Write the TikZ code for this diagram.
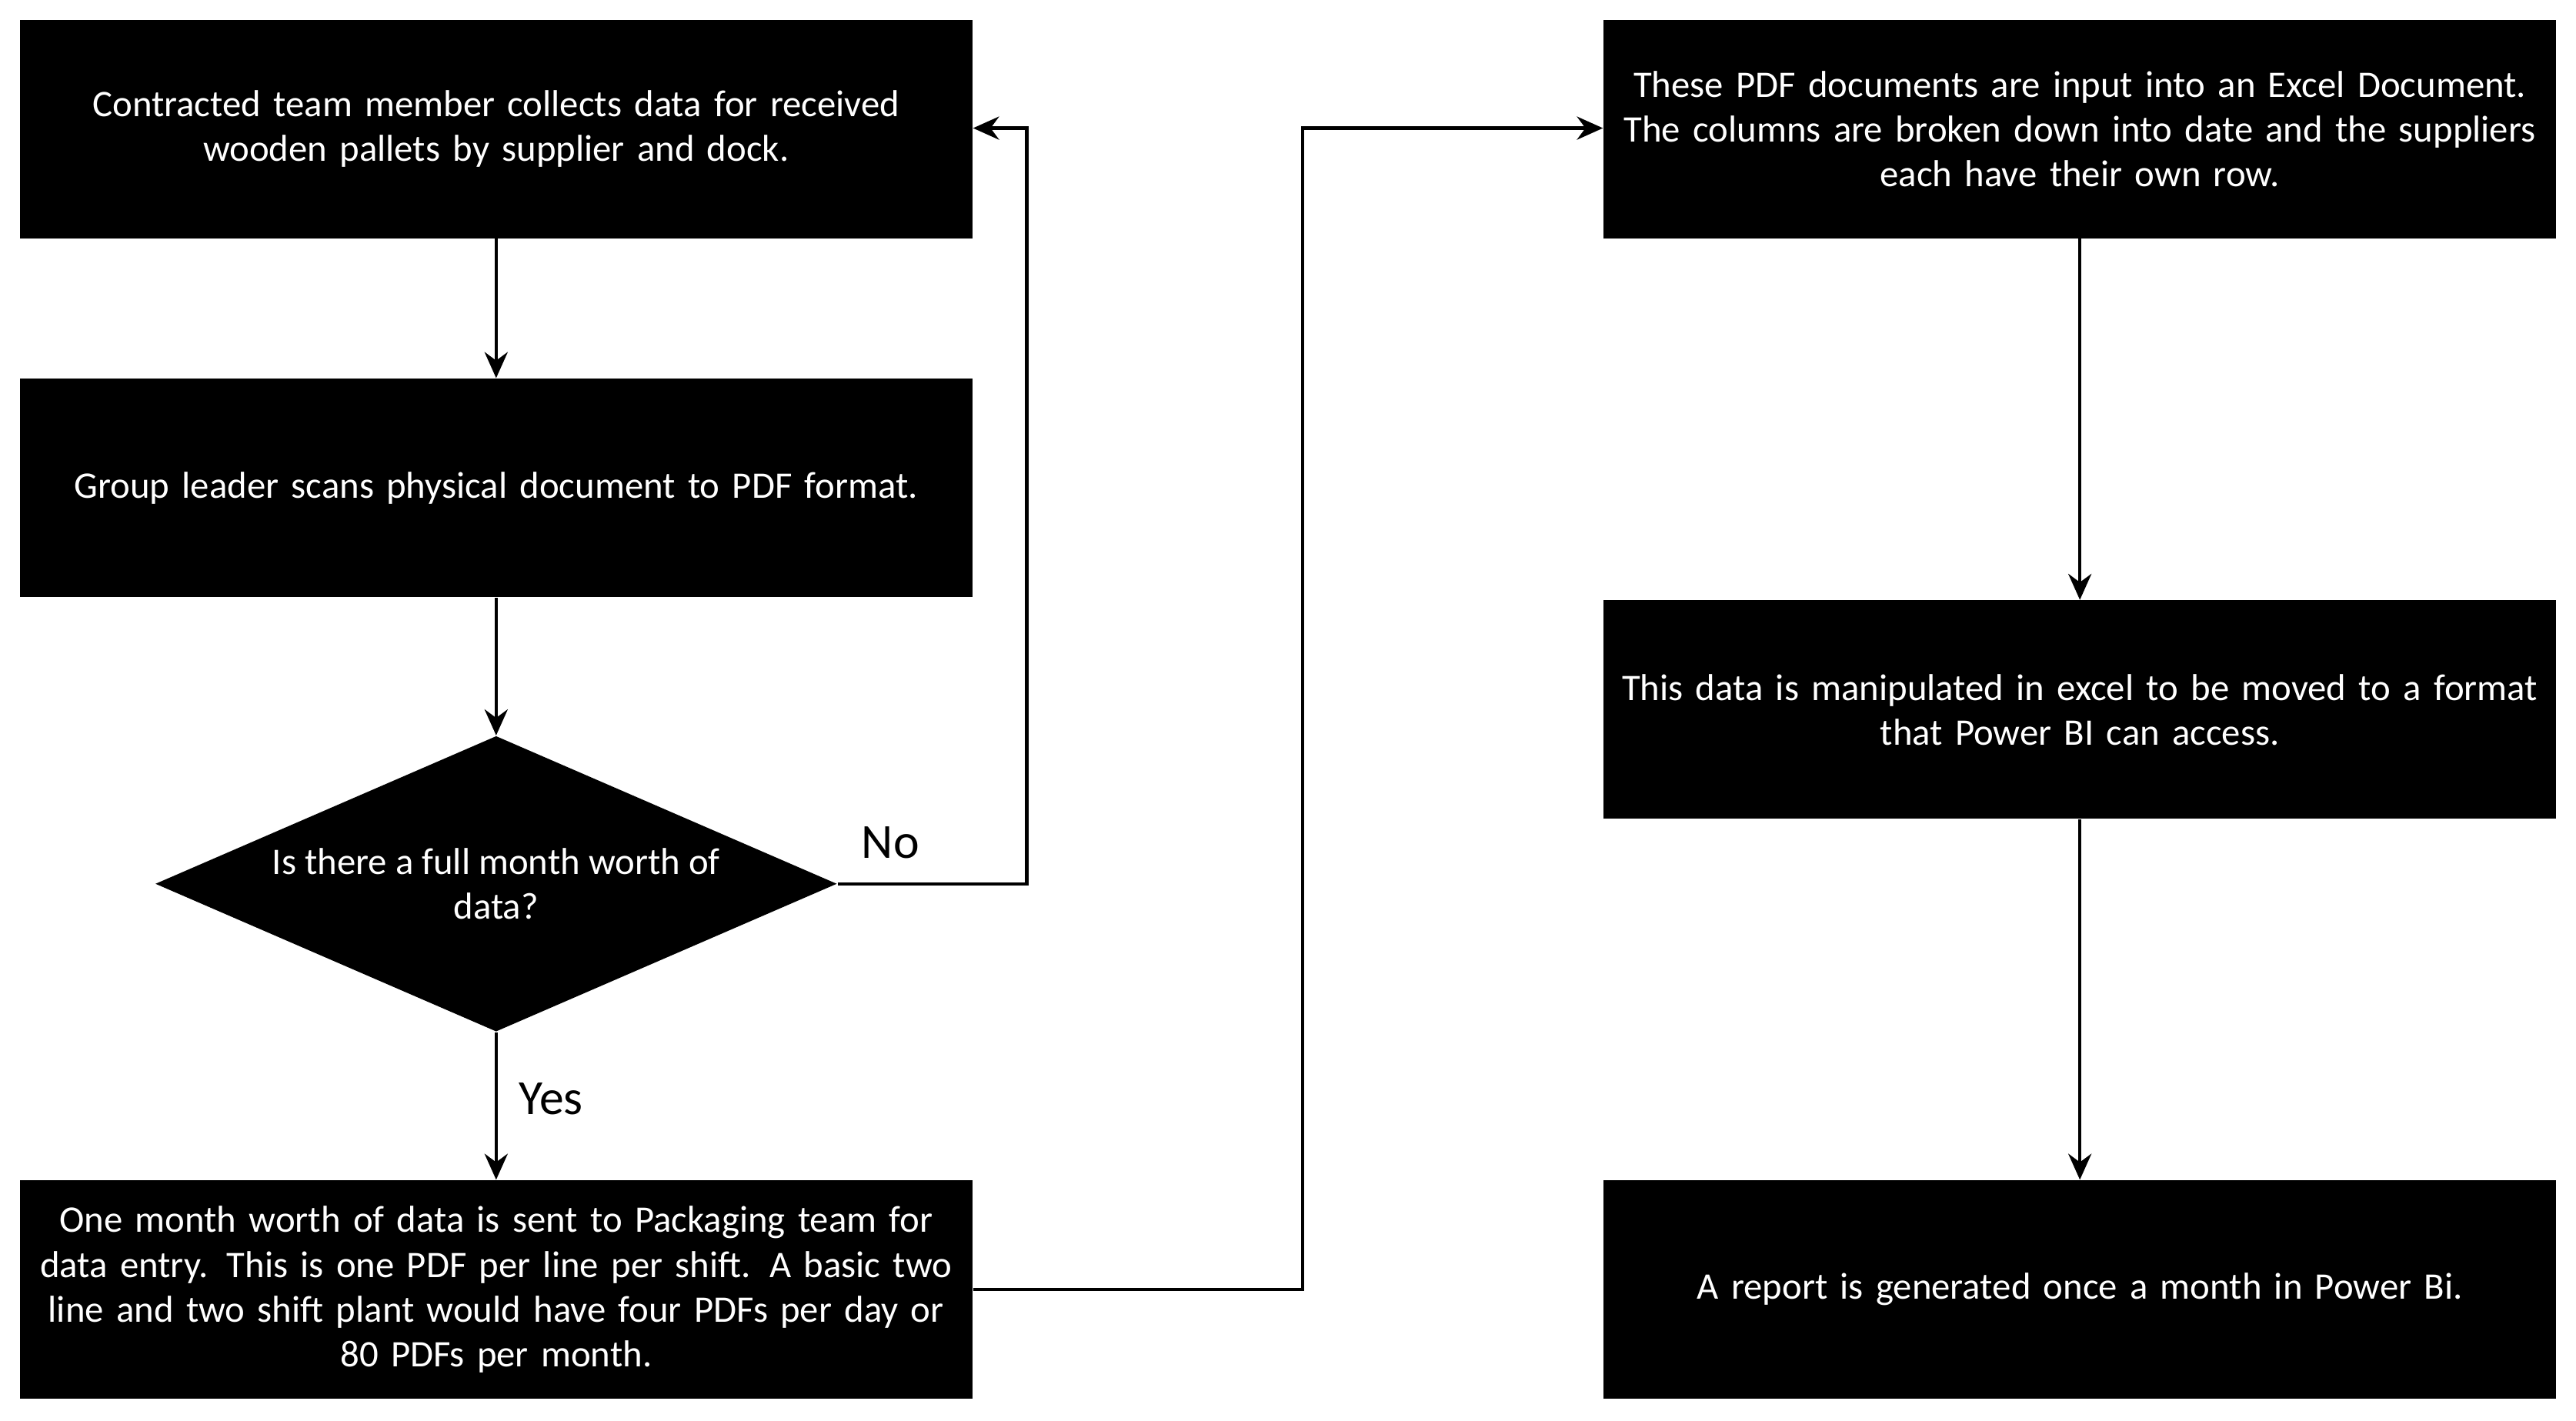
\documentclass[tikz,border=0pt]{standalone}
\usepackage{fontspec}
\setmainfont{Carlito}
\usetikzlibrary{shapes.geometric,arrows.meta}
\begin{document}
\begin{tikzpicture}[x=0.02cm,y=-0.02cm,
  box/.style={fill=black,text=white,minimum width=11.6cm,minimum height=2.66cm,text width=11.2cm,align=center,inner sep=0pt,font=\fontsize{13}{15.5}\selectfont},
  dia/.style={diamond,fill=black,text=white,aspect=2.3,minimum width=8.3cm,minimum height=3.6cm,inner sep=0pt,align=center,font=\fontsize{13}{15.5}\selectfont},
  arr/.style={line width=1.2pt,-{Stealth[length=9pt,width=8pt]}},
  lbl/.style={font=\fontsize{17}{20}\selectfont}]
\useasboundingbox (0,0) rectangle (1568,865);
\node[box] (b1) at (302,78.5) {Contracted team member collects data for received\\wooden pallets by supplier and dock.};
\node[box] (b2) at (302,297) {Group leader scans physical document to PDF format.};
\node[dia] (d) at (302,538) {Is there a full month worth of\\data?};
\node[box] (b4) at (302,785) {One month worth of data is sent to Packaging team for\\data entry. This is one PDF per line per shift. A basic two\\line and two shift plant would have four PDFs per day or\\80 PDFs per month.};
\node[box] (b5) at (1266,78.5) {These PDF documents are input into an Excel Document.\\The columns are broken down into date and the suppliers\\each have their own row.};
\node[box] (b6) at (1266,432) {This data is manipulated in excel to be moved to a format\\that Power BI can access.};
\node[box] (b7) at (1266,785) {A report is generated once a month in Power Bi.};
\coordinate (n1) at (625,538);
\coordinate (n2) at (625,78);
\coordinate (m1) at (793,785);
\coordinate (m2) at (793,78);
\draw[arr] (b1) -- (b2);
\draw[arr] (b2) -- (d);
\draw[arr] (d) -- (b4) node[pos=0.45,right=4pt,lbl] (yes) {Yes};
\draw[arr] (d.east) -- (n1) -- (n2) -- (b1.east |- n2);
\node[lbl] (no) at (542,513) {No};
\draw[arr] (b4.east) -- (m1) -- (m2) -- (b5.west |- m2);
\draw[arr] (b5) -- (b6);
\draw[arr] (b6) -- (b7);
\end{tikzpicture}
\end{document}
